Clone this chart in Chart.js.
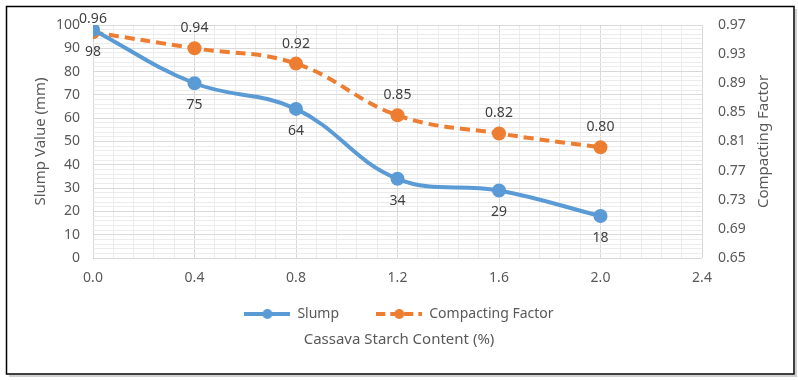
<!DOCTYPE html>
<html><head><meta charset="utf-8">
<script src="https://cdn.jsdelivr.net/npm/chart.js@4/dist/chart.umd.min.js"></script>
<style>html,body{margin:0;padding:0;background:#fff}#wrap{width:798px;height:380px;position:relative}</style>
</head><body><div id="wrap"><canvas id="c" width="798" height="380"></canvas></div>
<script>
const starchContent = [0.0, 0.4, 0.8, 1.2, 1.6, 2.0];
const slumpValues = [98, 75, 64, 34, 29, 18];
const compactingFactor = [0.96, 0.938, 0.917, 0.846, 0.821, 0.802];
const seriesNames = ['Slump', 'Compacting Factor'];
const xTitle = 'Cassava Starch Content (%)';
const yTitle = 'Slump Value (mm)';
const y1Title = 'Compacting Factor';

const FONT = 'Noto Sans';
const TXT = '#595959';
const BLUE = '#5B9BD5', ORANGE = '#ED7D31';

function legendIcon(color, dashed) {
  const c = document.createElement('canvas');
  c.width = 46; c.height = 12;
  const g = c.getContext('2d');
  g.strokeStyle = color; g.lineWidth = 4;
  if (dashed) g.setLineDash([9, 5]);
  g.beginPath(); g.moveTo(0, 6); g.lineTo(46, 6); g.stroke();
  g.setLineDash([]);
  g.fillStyle = color; g.beginPath(); g.arc(23, 6, 5, 0, Math.PI * 2); g.fill();
  return c;
}

const frame = {
  id: 'frame',
  afterDraw(chart) {
    const g = chart.ctx;
    g.save();
    g.strokeStyle = '#d0d0d0'; g.lineWidth = 2;
    g.beginPath(); g.moveTo(796, 9); g.lineTo(796, 376); g.lineTo(9, 376); g.stroke();
    g.strokeStyle = '#000'; g.lineWidth = 1.5;
    g.strokeRect(6.5, 6.5, 787.5, 367.5);
    // right axis title, reading bottom-to-top
    const s = chart.scales.y1;
    g.fillStyle = TXT;
    g.font = '15px "' + FONT + '"';
    g.textAlign = 'center'; g.textBaseline = 'middle';
    g.translate(s.right - 14, (chart.chartArea.top + chart.chartArea.bottom) / 2);
    g.rotate(-Math.PI / 2);
    g.fillText(y1Title, 0, 0);
    g.restore();
  }
};

const dataLabels = {
  id: 'dataLabels',
  afterDatasetsDraw(chart) {
    const g = chart.ctx;
    g.save();
    g.font = '14px "' + FONT + '"';
    g.fillStyle = '#404040';
    g.textAlign = 'center'; g.textBaseline = 'middle';
    const top = chart.chartArea.top;
    chart.data.datasets.forEach((ds, i) => {
      const meta = chart.getDatasetMeta(i);
      meta.data.forEach((pt, j) => {
        const v = ds.data[j].y;
        const txt = i === 0 ? String(v) : v.toFixed(2);
        const y = i === 0 ? pt.y + 22 : Math.max(pt.y - 20, top - 6);
        g.fillText(txt, pt.x, y);
      });
    });
    g.restore();
  }
};

const isMult = (v, s) => Math.abs(v / s - Math.round(v / s)) < 1e-6;

new Chart(document.getElementById('c'), {
  type: 'line',
  data: {
    datasets: [
      {
        label: seriesNames[0],
        data: starchContent.map((x, i) => ({ x, y: slumpValues[i] })),
        yAxisID: 'y',
        borderColor: BLUE, backgroundColor: BLUE,
        borderWidth: 4, pointRadius: 5, pointHoverRadius: 5,
        tension: 0.4
      },
      {
        label: seriesNames[1],
        data: starchContent.map((x, i) => ({ x, y: compactingFactor[i] })),
        yAxisID: 'y1',
        borderColor: ORANGE, backgroundColor: ORANGE,
        borderWidth: 4, borderDash: [10, 6], pointRadius: 5, pointHoverRadius: 5,
        tension: 0.4
      }
    ]
  },
  options: {
    responsive: false, animation: false,
    layout: { padding: { left: 20, right: 20, top: 25, bottom: 18 } },
    scales: {
      x: {
        type: 'linear', min: 0, max: 2.4,
        afterFit(s) { s.height = 30; },
        ticks: {
          stepSize: 0.08, autoSkip: false, maxRotation: 0, padding: 12,
          color: TXT, font: { family: FONT, size: 14 },
          callback: v => isMult(v, 0.4) ? (Math.round(v * 10) / 10).toFixed(1) : ''
        },
        grid: {
          drawTicks: false,
          color: c => (c.tick && isMult(c.tick.value, 0.4)) ? '#d9d9d9' : '#ececec'
        },
        border: { display: false }
      },
      y: {
        position: 'left', min: 0, max: 100,
        afterFit(s) { s.width = 73; },
        ticks: {
          stepSize: 2, autoSkip: false, padding: 13,
          color: TXT, font: { family: FONT, size: 14 },
          callback: v => isMult(v, 10) ? String(Math.round(v)) : ''
        },
        grid: {
          drawTicks: false,
          color: c => (c.tick && isMult(c.tick.value, 10)) ? '#d9d9d9' : '#ececec'
        },
        border: { display: false },
        title: { display: true, text: yTitle, color: TXT, font: { family: FONT, size: 15 }, padding: { top: 12, bottom: 0 } }
      },
      y1: {
        position: 'right', min: 0.65, max: 0.97,
        afterFit(s) { s.width = 76; },
        ticks: {
          stepSize: 0.04, autoSkip: false, padding: 16,
          color: TXT, font: { family: FONT, size: 14 },
          callback: v => v.toFixed(2)
        },
        grid: { drawOnChartArea: false, drawTicks: false },
        border: { display: false }
      }
    },
    plugins: {
      legend: {
        position: 'bottom',
        labels: {
          usePointStyle: true, pointStyleWidth: 46, boxHeight: 12,
          generateLabels: chart => chart.data.datasets.map((ds, i) => ({
            text: i === 0 ? ds.label + '     ' : ds.label,
            pointStyle: legendIcon(ds.borderColor, i === 1),
            fillStyle: ds.borderColor, strokeStyle: ds.borderColor, lineWidth: 0,
            fontColor: TXT, datasetIndex: i, hidden: false
          })),
          color: TXT, font: { family: FONT, size: 14 }, padding: 19
        }
      },
      title: {
        display: true, position: 'bottom', text: xTitle, color: TXT,
        font: { family: FONT, size: 15, weight: 'normal' }, padding: { top: 0, bottom: 13 }
      },
      tooltip: { enabled: false }
    }
  },
  plugins: [dataLabels, frame]
});
</script></body></html>
